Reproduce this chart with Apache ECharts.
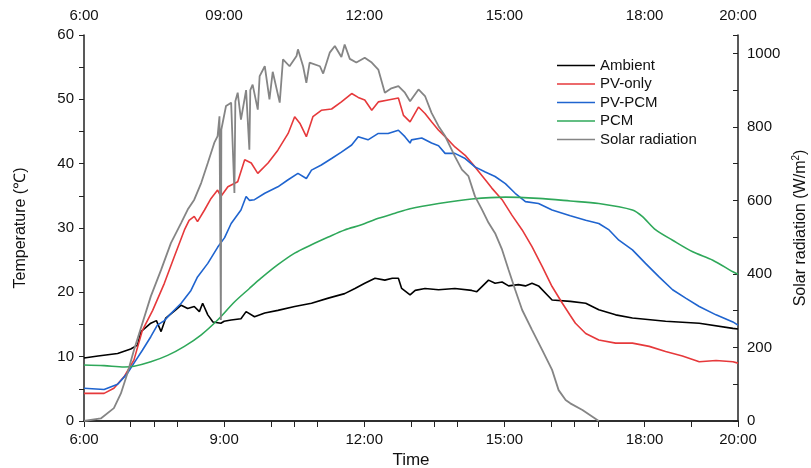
<!DOCTYPE html>
<html>
<head>
<meta charset="utf-8">
<script src="https://cdn.jsdelivr.net/npm/echarts@6/dist/echarts.min.js"></script>
<style>
  html, body { margin: 0; padding: 0; background: #fff; }
  #chart { width: 811px; height: 468px; }
</style>
</head>
<body>
<div id="chart"></div>
<script>
// time in decimal hours
var ambientHours = [6.0, 6.3, 6.72, 7.0, 7.145, 7.22, 7.43, 7.55, 7.65, 7.75, 7.97, 8.08, 8.22, 8.36, 8.47, 8.54, 8.65, 8.76, 8.93, 9.0, 9.15, 9.36, 9.47, 9.65, 9.87, 10.15, 10.51, 10.87, 11.23, 11.58, 11.8, 12.01, 12.23, 12.44, 12.6, 12.73, 12.8, 12.98, 13.09, 13.3, 13.59, 13.94, 14.3, 14.41, 14.66, 14.8, 14.95, 15.09, 15.3, 15.45, 15.59, 15.73, 16.02, 16.41, 16.74, 17.02, 17.38, 17.74, 18.45, 19.17, 19.89, 20.0];
var ambientTemp = [9.8, 10.1, 10.5, 11.2, 11.8, 13.9, 15.2, 15.6, 13.9, 16.0, 17.3, 18.0, 17.5, 17.8, 17.0, 18.3, 16.5, 15.4, 15.2, 15.5, 15.7, 15.9, 17.0, 16.2, 16.8, 17.2, 17.8, 18.3, 19.1, 19.8, 20.6, 21.4, 22.2, 21.9, 22.2, 22.2, 20.6, 19.6, 20.3, 20.6, 20.4, 20.6, 20.3, 20.1, 21.9, 21.4, 21.6, 21.0, 21.2, 21.0, 21.4, 21.0, 18.8, 18.6, 18.3, 17.3, 16.5, 16.0, 15.5, 15.2, 14.4, 14.3];

var pvHours = [6.0, 6.43, 6.64, 6.86, 7.07, 7.25, 7.47, 7.72, 7.93, 8.15, 8.25, 8.36, 8.43, 8.58, 8.72, 8.86, 8.93, 9.08, 9.29, 9.44, 9.58, 9.72, 9.94, 10.15, 10.37, 10.51, 10.62, 10.76, 10.9, 11.08, 11.3, 11.51, 11.73, 11.87, 12.01, 12.16, 12.3, 12.51, 12.73, 12.84, 12.98, 13.16, 13.3, 13.44, 13.59, 13.73, 13.94, 14.16, 14.37, 14.59, 14.73, 14.95, 15.16, 15.38, 15.59, 15.81, 16.02, 16.24, 16.41, 16.52, 16.74, 17.02, 17.38, 17.74, 18.1, 18.45, 18.81, 19.17, 19.53, 19.89, 20.0];
var pvTemp = [4.3, 4.3, 5.1, 6.9, 9.5, 14.1, 17.2, 21.4, 25.5, 29.7, 31.2, 31.8, 31.0, 32.8, 34.6, 35.9, 34.9, 36.4, 37.2, 40.6, 40.1, 38.5, 40.1, 42.1, 44.7, 47.3, 46.3, 44.2, 47.3, 48.3, 48.5, 49.6, 50.9, 50.3, 49.9, 48.3, 49.6, 49.9, 50.2, 47.5, 46.5, 48.8, 47.8, 46.5, 45.2, 44.2, 42.6, 41.3, 39.5, 37.5, 36.2, 34.4, 32.0, 29.7, 27.1, 24.0, 20.9, 18.3, 16.4, 15.2, 13.6, 12.6, 12.1, 12.1, 11.6, 10.8, 10.1, 9.2, 9.4, 9.2, 9.0];

var pvpcmHours = [6.0, 6.43, 6.72, 6.93, 7.07, 7.25, 7.43, 7.57, 7.72, 7.86, 8.08, 8.29, 8.43, 8.65, 8.86, 9.01, 9.15, 9.36, 9.47, 9.54, 9.65, 9.87, 10.15, 10.37, 10.58, 10.76, 10.87, 11.08, 11.3, 11.51, 11.73, 11.87, 12.08, 12.3, 12.51, 12.73, 12.87, 12.98, 13.01, 13.23, 13.44, 13.59, 13.73, 13.94, 14.16, 14.37, 14.59, 14.8, 15.02, 15.23, 15.45, 15.73, 16.02, 16.41, 16.74, 17.02, 17.24, 17.45, 17.74, 18.02, 18.31, 18.6, 18.88, 19.17, 19.53, 19.89, 20.0];
var pvpcmTemp = [5.1, 4.9, 5.7, 7.4, 9.0, 11.0, 13.1, 14.9, 15.6, 16.7, 18.3, 20.3, 22.4, 24.5, 27.0, 28.5, 30.7, 32.8, 34.9, 34.3, 34.4, 35.4, 36.4, 37.5, 38.5, 37.7, 39.0, 39.8, 40.8, 41.8, 42.9, 44.2, 43.7, 44.7, 44.7, 45.2, 44.2, 43.2, 43.7, 44.0, 43.2, 42.8, 41.6, 41.6, 40.8, 39.5, 38.7, 38.0, 36.9, 35.4, 34.1, 33.8, 32.8, 31.9, 31.2, 30.7, 29.7, 28.1, 26.6, 24.5, 22.4, 20.4, 19.1, 17.8, 16.5, 15.4, 14.9];

var pcmHours = [6.0, 6.43, 6.86, 7.07, 7.43, 7.79, 8.15, 8.51, 8.86, 9.22, 9.54, 9.79, 10.15, 10.51, 10.87, 11.23, 11.58, 11.94, 12.3, 12.66, 12.98, 13.59, 14.3, 15.02, 15.73, 16.41, 17.02, 17.74, 17.95, 18.24, 18.6, 19.03, 19.46, 19.89, 20.0];
var pcmTemp = [8.7, 8.6, 8.4, 8.5, 9.2, 10.2, 11.6, 13.4, 15.7, 18.5, 20.6, 22.2, 24.3, 26.1, 27.4, 28.6, 29.7, 30.5, 31.5, 32.3, 33.0, 33.8, 34.5, 34.8, 34.6, 34.2, 33.8, 32.8, 31.8, 29.7, 28.1, 26.3, 25.0, 23.2, 22.8];

var solarHours = [6.0, 6.36, 6.64, 6.79, 6.93, 7.07, 7.25, 7.43, 7.65, 7.86, 8.08, 8.22, 8.36, 8.51, 8.65, 8.79, 8.86, 8.9, 8.93, 8.94, 9.04, 9.15, 9.22, 9.24, 9.29, 9.36, 9.47, 9.54, 9.56, 9.61, 9.72, 9.76, 9.87, 9.97, 10.04, 10.19, 10.26, 10.4, 10.55, 10.58, 10.69, 10.76, 10.83, 11.05, 11.12, 11.26, 11.37, 11.51, 11.58, 11.69, 11.83, 12.01, 12.16, 12.3, 12.44, 12.58, 12.73, 12.87, 12.98, 13.16, 13.3, 13.44, 13.59, 13.73, 13.94, 14.09, 14.23, 14.37, 14.52, 14.66, 14.8, 14.95, 15.09, 15.23, 15.38, 15.59, 15.81, 16.02, 16.16, 16.31, 16.41, 16.67, 17.02];
var solarRad = [0, 7, 35, 75, 130, 193, 266, 339, 411, 484, 539, 575, 602, 648, 702, 757, 775, 829, 275, 793, 857, 866, 620, 870, 893, 820, 900, 738, 900, 915, 847, 938, 965, 875, 950, 866, 984, 965, 993, 1011, 965, 920, 975, 965, 945, 1002, 1020, 990, 1024, 985, 975, 988, 975, 956, 893, 905, 911, 893, 870, 902, 884, 838, 802, 775, 720, 684, 666, 611, 575, 539, 511, 466, 411, 357, 302, 248, 193, 139, 84, 57, 48, 30, 0];

var bottomTicks = [6, 7, 8, 9, 10, 11, 12, 13, 14, 15, 16, 17, 18, 19, 20];
var bottomLabels = [6, 9, 12, 15, 18, 20];
var topTicks = [6, 7.5, 9, 10.5, 12, 13.5, 15, 16.5, 18, 19, 20];
var topLabels = [6, 9, 12, 15, 18, 20];
var solarTicks = [0, 200, 400, 600, 800, 1000];

function pairs(xs, ys) {
  return xs.map(function (x, i) { return [x, ys[i]]; });
}

var font = "'Liberation Sans', Arial, sans-serif";
var axisColor = '#222';

var chart = echarts.init(document.getElementById('chart'));
var option = {
  backgroundColor: '#fff',
  animation: false,
  textStyle: { fontFamily: font },
  grid: { left: 84, right: 73, top: 35, bottom: 47, outerBoundsMode: 'none', containLabel: false },
  legend: {
    orient: 'vertical',
    left: 552,
    top: 53,
    icon: 'rect',
    itemWidth: 38,
    itemHeight: 1.6,
    itemGap: 3.5,
    textStyle: { fontSize: 15, color: '#111', fontFamily: font, lineHeight: 14 },
    data: ['Ambient', 'PV-only', 'PV-PCM', 'PCM', 'Solar radiation']
  },
  xAxis: [
    {
      type: 'value',
      min: 6,
      max: 20,
      name: 'Time',
      nameLocation: 'middle',
      nameGap: 29,
      nameTextStyle: { fontSize: 17, color: '#111' },
      axisLine: { show: true, lineStyle: { color: axisColor, width: 1.5 } },
      axisTick: { show: true, inside: false, length: 6, customValues: bottomTicks, lineStyle: { color: axisColor } },
      axisLabel: {
        customValues: bottomLabels,
        margin: 11,
        fontSize: 15,
        color: '#111',
        formatter: function (v) { return v + ':00'; }
      },
      splitLine: { show: false }
    },
    {
      type: 'value',
      position: 'top',
      min: 6,
      max: 20,
      axisLine: { show: true, lineStyle: { color: axisColor, width: 1.5 } },
      axisTick: { show: true, inside: true, length: 6, customValues: topTicks, lineStyle: { color: axisColor } },
      axisLabel: {
        customValues: topLabels,
        margin: 12,
        fontSize: 15,
        color: '#111',
        formatter: function (v) { return v === 6 ? '6:00' : (v < 10 ? '0' + v : v) + ':00'; }
      },
      splitLine: { show: false }
    }
  ],
  yAxis: [
    {
      type: 'value',
      min: 0,
      max: 60,
      interval: 10,
      name: 'Temperature (\u2103)',
      nameLocation: 'middle',
      nameRotate: 90,
      nameGap: 55,
      nameTextStyle: { fontSize: 16, color: '#111' },
      axisLine: { show: true, lineStyle: { color: axisColor, width: 1.5 } },
      axisTick: { show: true, length: 5, lineStyle: { color: axisColor } },
      minorTick: { show: true, splitNumber: 2, length: 5, lineStyle: { color: axisColor } },
      axisLabel: { fontSize: 15, color: '#111', margin: 10 },
      splitLine: { show: false },
      minorSplitLine: { show: false }
    },
    {
      type: 'value',
      min: 0,
      max: 1050,
      interval: 100,
      position: 'right',
      name: 'Solar radiation (W/m{sup|2})',
      nameLocation: 'middle',
      nameRotate: 90,
      nameGap: 40,
      nameTextStyle: {
        fontSize: 16,
        color: '#111',
        rich: { sup: { fontSize: 10, verticalAlign: 'top', padding: [0, 0, 8, 0] } }
      },
      axisLine: { show: true, lineStyle: { color: axisColor, width: 1.5 } },
      axisTick: { show: true, inside: true, length: 5, lineStyle: { color: axisColor } },
      axisLabel: {
        customValues: solarTicks,
        fontSize: 15,
        color: '#111',
        margin: 9,
        formatter: function (v) { return String(v); }
      },
      splitLine: { show: false }
    }
  ],
  series: [
    {
      name: 'Ambient', type: 'line', symbol: 'none',
      data: pairs(ambientHours, ambientTemp),
      lineStyle: { color: '#000', width: 1.6 }, itemStyle: { color: '#000' }
    },
    {
      name: 'PV-only', type: 'line', symbol: 'none',
      data: pairs(pvHours, pvTemp),
      lineStyle: { color: '#e6393b', width: 1.6 }, itemStyle: { color: '#e6393b' }
    },
    {
      name: 'PV-PCM', type: 'line', symbol: 'none',
      data: pairs(pvpcmHours, pvpcmTemp),
      lineStyle: { color: '#1f64cf', width: 1.6 }, itemStyle: { color: '#1f64cf' }
    },
    {
      name: 'PCM', type: 'line', symbol: 'none', smooth: 0.3,
      data: pairs(pcmHours, pcmTemp),
      lineStyle: { color: '#2fa85a', width: 1.6 }, itemStyle: { color: '#2fa85a' }
    },
    {
      name: 'Solar radiation', type: 'line', symbol: 'none', yAxisIndex: 1,
      data: pairs(solarHours, solarRad),
      lineStyle: { color: '#858585', width: 1.8 }, itemStyle: { color: '#858585' }
    }
  ]
};
chart.setOption(option);
</script>
</body>
</html>
